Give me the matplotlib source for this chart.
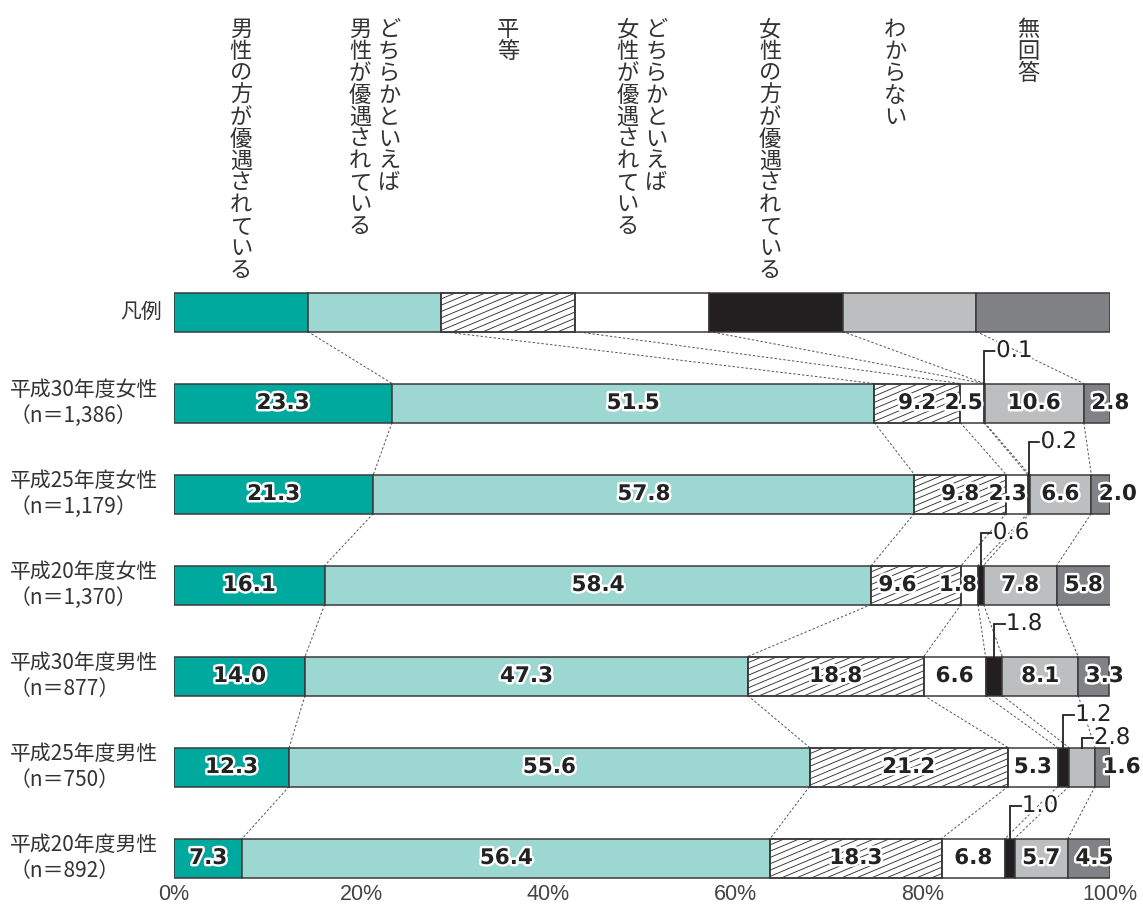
import matplotlib
matplotlib.use("Agg")
import matplotlib.pyplot as plt
import matplotlib.patheffects as pe
from matplotlib.collections import LineCollection
import numpy as np

plt.rcParams['font.family'] = ['Noto Sans CJK JP', 'DejaVu Sans']

categories = ["男性の方が優遇されている",
              "どちらかといえば\n男性が優遇されている",
              "平等",
              "どちらかといえば\n女性が優遇されている",
              "女性の方が優遇されている",
              "わからない",
              "無回答"]
row_titles = ["平成30年度女性", "平成25年度女性", "平成20年度女性",
              "平成30年度男性", "平成25年度男性", "平成20年度男性"]
row_n = ["（n＝1,386）", "（n＝1,179）", "（n＝1,370）",
         "（n＝877）", "（n＝750）", "（n＝892）"]
values = np.array([
    [23.3, 51.5, 9.2, 2.5, 0.1, 10.6, 2.8],
    [21.3, 57.8, 9.8, 2.3, 0.2, 6.6, 2.0],
    [16.1, 58.4, 9.6, 1.8, 0.6, 7.8, 5.8],
    [14.0, 47.3, 18.8, 6.6, 1.8, 8.1, 3.3],
    [12.3, 55.6, 21.2, 5.3, 1.2, 2.8, 1.6],
    [7.3, 56.4, 18.3, 6.8, 1.0, 5.7, 4.5],
])
xticks = [0, 20, 40, 60, 80, 100]
xtick_labels = ["0%", "20%", "40%", "60%", "80%", "100%"]

colors = ["#00a99d", "#9dd7d1", "white", "white", "#231f20", "#bcbec0", "#808285"]
hatched = [False, False, True, False, False, False, False]
edge = "#3a3a3a"

W, H = 1143, 908
fig = plt.figure(figsize=(W / 100, H / 100), dpi=100)
ax = fig.add_axes([174 / W, 0, 936 / W, 1])

# layout helpers (pixel -> data)
def py(p):
    return (p - 312) / 91.0

def pxx(p):
    return (p - 174) / 936.0 * 100

DX = 100 / 936.0   # data x per pixel
DY = 1 / 91.0      # data y per pixel

ax.set_xlim(0, 100)
ax.set_ylim(py(H), py(0))
ax.axis("off")
bh = 39 / 91.0

stroke = [pe.withStroke(linewidth=3.5, foreground="white")]
numfont = dict(family="DejaVu Sans", fontweight="bold", fontsize=15.5, color="#222")


def add_hatch(patch):
    x0, y0 = patch.get_x(), patch.get_y()
    w, h = patch.get_width(), patch.get_height()
    hpx = h / DY
    slope = 0.42      # pixel rise per pixel run
    step = 15.0       # pixels between lines along x
    run = hpx / slope
    segs = []
    s = -run
    while s < w / DX + step:
        xa = x0 + s * DX
        xb = x0 + (s + run) * DX
        segs.append([(xa, y0 + h), (xb, y0)])
        s += step
    lc = LineCollection(segs, colors="#333", linewidths=0.65, zorder=patch.get_zorder() + 0.1)
    ax.add_collection(lc)
    lc.set_clip_path(patch)


def draw_seg(y, width, left, k):
    bars = ax.barh(y, width, left=left, height=bh, color=colors[k],
                   edgecolor=edge, linewidth=1.1, zorder=2)
    if hatched[k]:
        add_hatch(bars.patches[0])
        ax.barh(y, width, left=left, height=bh, fill=False,
                edgecolor=edge, linewidth=1.1, zorder=2.5)


# legend bar
leg_w = 100 / len(categories)
for k in range(len(categories)):
    draw_seg(0, leg_w, k * leg_w, k)
ax.text(pxx(162), 0, "凡例", ha="right", va="center", fontsize=15, color="#333")

# vertical headers
pitch = 21.9
for k, cat in enumerate(categories):
    cx = (k + 0.5) * leg_w
    cols = cat.split("\n")
    ncol = len(cols)
    shift = [0, 0, 0, 0, -0.6, -1.5, -1.6][k]
    for j, col in enumerate(cols):
        off = (ncol - 1) / 2 - j   # first column on the right
        xc = cx + shift + off * 29 * DX
        for i, ch in enumerate(col):
            ax.text(xc, py(18 + i * pitch), ch, ha="center", va="top",
                    fontsize=16, color="#333")

# data bars
cums = np.cumsum(values, axis=1)
lefts = cums - values
for r in range(values.shape[0]):
    y = r + 1
    for k in range(values.shape[1]):
        draw_seg(y, values[r, k], lefts[r, k], k)
    ax.text(pxx(10), y, row_titles[r] + "\n" + row_n[r], ha="left", va="center",
            fontsize=15, color="#333", linespacing=1.18, clip_on=False)

# value labels
for r in range(values.shape[0]):
    y = r + 1
    level = 0
    for k in range(values.shape[1]):
        v = values[r, k]
        lab = f"{v:.1f}"
        c = lefts[r, k] + v / 2
        if k == 4 or (k == 5 and v < 3):
            hgt = 33 if level == 0 else 10
            level += 1
            ytop = y - bh / 2
            yl = ytop - hgt * DY
            ax.plot([c, c, c + 11 * DX], [ytop, yl, yl], color="#222",
                    lw=1.3, solid_joinstyle="miter", zorder=4)
            ax.text(c + 12 * DX, yl, lab, ha="left", va="center",
                    path_effects=stroke, zorder=5,
                    **dict(numfont, fontweight="normal", fontsize=16.5))
            continue
        ha = "center"
        xpos = c
        if k == 2 and values[r, 3] < 2:
            xpos = c - 2.0
        if k == 3 and v < 3:
            ha = "right"
            xpos = cums[r, k] - 0.1
        if k == 6 and v < 5:
            ha = "left"
            xpos = lefts[r, k] + 0.8
        ax.text(xpos, y, lab, ha=ha, va="center", path_effects=stroke,
                zorder=5, **numfont)

# connector lines
prev = np.arange(1, len(categories)) * leg_w
for r in range(values.shape[0]):
    cur = cums[r, :-1]
    y0 = r + bh / 2
    y1 = r + 1 - bh / 2
    for a, b in zip(prev, cur):
        ax.plot([a, b], [y0, y1], color="#555", lw=0.7, ls=(0, (2.5, 2)), zorder=1)
    prev = cur

# x tick labels
for t, l in zip(xticks, xtick_labels):
    ax.text(t, py(895), l, ha="center", va="center", fontsize=15.5, color="#444",
            family=["Liberation Sans", "DejaVu Sans"])

fig.savefig("out.png", dpi=100)
